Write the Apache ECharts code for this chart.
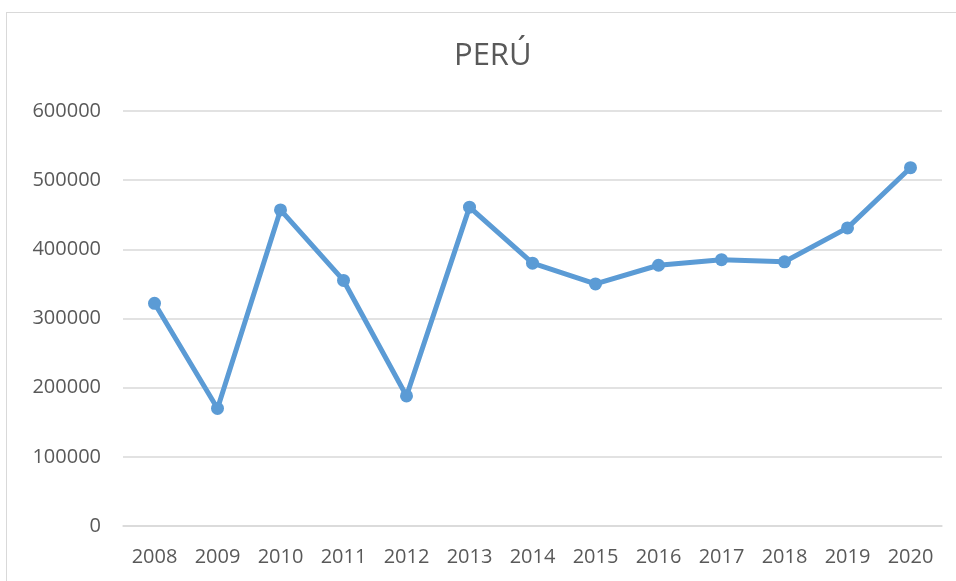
<!DOCTYPE html>
<html><head><meta charset="utf-8">
<script src="https://cdn.jsdelivr.net/npm/echarts@6/dist/echarts.min.js"></script>
<style>html,body{margin:0;padding:0;background:#fff}#c{width:956px;height:581px}
#box{position:absolute;left:6px;top:12px;width:960px;height:580px;border:1px solid #d9d9d9;box-sizing:border-box;pointer-events:none}</style>
</head><body><div id="c"></div><div id="box"></div>
<script>
const title = 'PERÚ';
const categories = ['2008','2009','2010','2011','2012','2013','2014','2015','2016','2017','2018','2019','2020'];
const values = [322000, 170000, 457000, 355000, 188000, 461000, 380000, 350000, 377000, 385000, 382000, 431000, 518000];
const yTicks = {min: 0, max: 600000, interval: 100000};
const font = '"Liberation Sans Narrow", "Open Sans", sans-serif';
const chart = echarts.init(document.getElementById('c'));
chart.setOption({
  animation: false,
  backgroundColor: '#fff',
  title: {text: title, left: 449, top: 36, textStyle: {fontFamily: font, fontSize: 31, fontWeight: 'normal', color: '#595959'}},
  grid: {left: 123, right: 14, top: 111, bottom: 55},
  xAxis: {type: 'category', data: categories, boundaryGap: true,
    axisLine: {lineStyle: {color: '#d9d9d9', width: 1.5}}, axisTick: {show: false},
    axisLabel: {fontFamily: font, fontSize: 20, color: '#595959', margin: 21}},
  yAxis: {type: 'value', min: yTicks.min, max: yTicks.max, interval: yTicks.interval,
    axisLine: {show: false}, axisTick: {show: false},
    splitLine: {lineStyle: {color: '#d9d9d9', width: 1.5}},
    axisLabel: {fontFamily: font, fontSize: 20, color: '#595959', margin: 22, formatter: v => String(v)}},
  series: [{type: 'line', data: values, symbol: 'circle', symbolSize: 13,
    lineStyle: {color: '#5b9bd5', width: 5}, itemStyle: {color: '#5b9bd5'}}]
});
</script></body></html>
